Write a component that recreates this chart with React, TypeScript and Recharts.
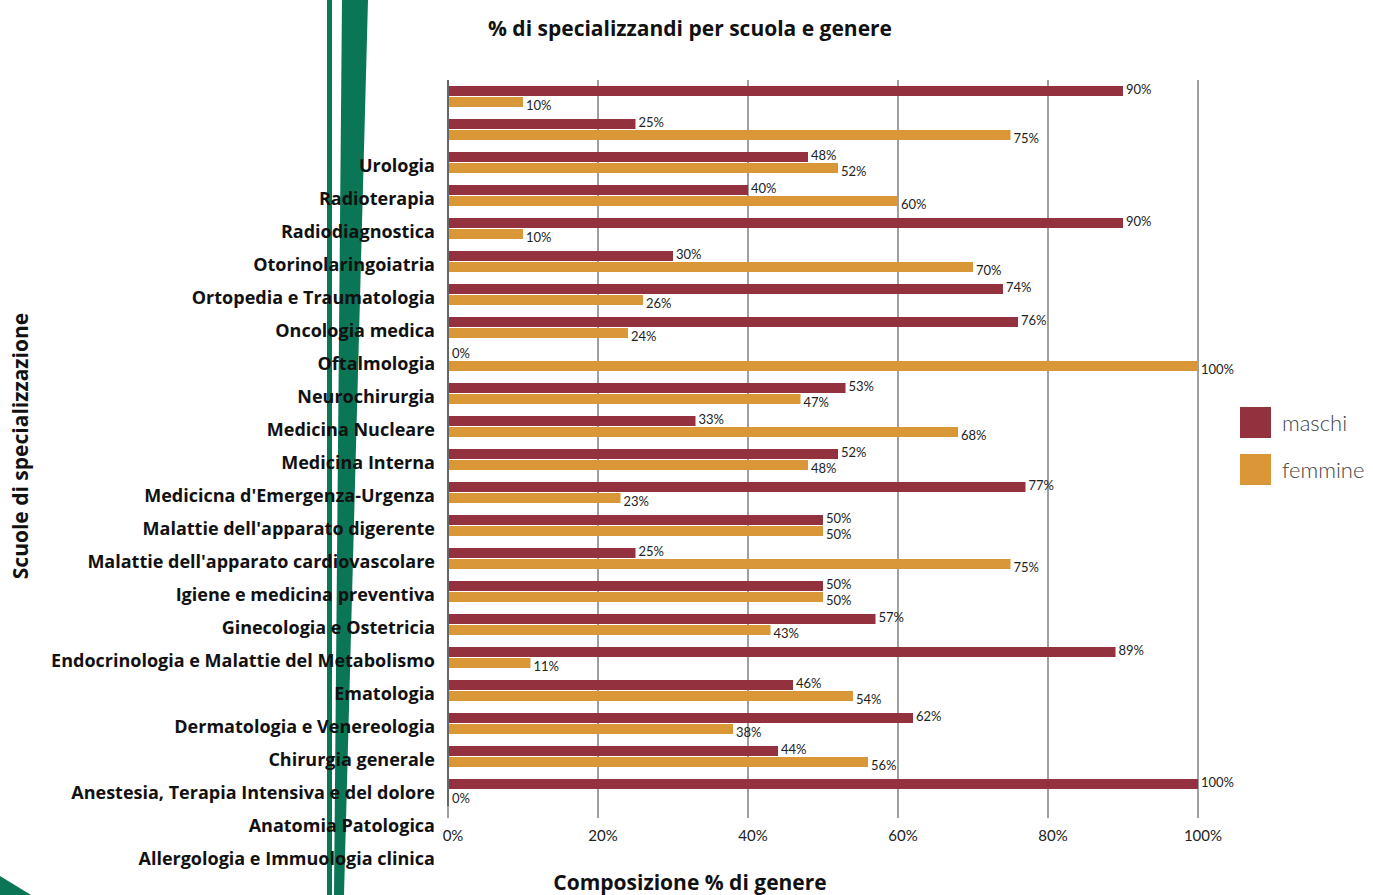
import React from 'react';
import { BarChart, Bar, XAxis, YAxis, CartesianGrid, Legend, LabelList } from 'recharts';

const scuole = [
  'Urologia',
  'Radioterapia',
  'Radiodiagnostica',
  'Otorinolaringoiatria',
  'Ortopedia e Traumatologia',
  'Oncologia medica',
  'Oftalmologia',
  'Neurochirurgia',
  'Medicina Nucleare',
  'Medicina Interna',
  "Medicicna d'Emergenza-Urgenza",
  "Malattie dell'apparato digerente",
  "Malattie dell'apparato cardiovascolare",
  'Igiene e medicina preventiva',
  'Ginecologia e Ostetricia',
  'Endocrinologia e Malattie del Metabolismo',
  'Ematologia',
  'Dermatologia e Venereologia',
  'Chirurgia generale',
  'Anestesia, Terapia Intensiva e del dolore',
  'Anatomia Patologica',
  'Allergologia e Immuologia clinica',
];

const maschi = [90, 25, 48, 40, 90, 30, 74, 76, 0, 53, 33, 52, 77, 50, 25, 50, 57, 89, 46, 62, 44, 100];
const femmine = [10, 75, 52, 60, 10, 70, 26, 24, 100, 47, 68, 48, 23, 50, 75, 50, 43, 11, 54, 38, 56, 0];

const xTicks = [0, 20, 40, 60, 80, 100];

const RED = '#93313E';
const ORANGE = '#DA9738';
const GREEN = '#0A7656';
const GRID = '#a0a0a0';
const BOLD = '"Open Sans", Lato, sans-serif';
const FONT = 'Lato, "Open Sans", sans-serif';

const data = scuole.map((name, i) => ({ name, maschi: maschi[i], femmine: femmine[i] }));

// the school names sit two rows below their bars, as in the reference
function SchoolTick({ y, payload }: any) {
  return (
    <text x={435} y={y + 68} textAnchor="end" dominantBaseline="central"
      fontFamily={BOLD} fontWeight={700} fontSize={18} fill="#111">
      {payload.value}
    </text>
  );
}

function PctTick({ x, payload }: any) {
  return (
    <text x={x + 5} y={835} textAnchor="middle" dominantBaseline="central"
      fontFamily={FONT} fontSize={15} fill="#222">
      {payload.value}%
    </text>
  );
}

const NoTick = () => <g />;

function renderLegend() {
  const items = [
    { label: 'maschi', color: RED },
    { label: 'femmine', color: ORANGE },
  ];
  return (
    <div style={{ display: 'flex', flexDirection: 'column', gap: 16 }}>
      {items.map((it) => (
        <div key={it.label} style={{ display: 'flex', alignItems: 'center', gap: 11 }}>
          <span style={{ width: 31, height: 31, background: it.color, display: 'inline-block' }} />
          <span style={{ fontFamily: FONT, fontWeight: 300, fontSize: 22, color: '#444' }}>{it.label}</span>
        </div>
      ))}
    </div>
  );
}

export default function App() {
  return (
    <div style={{ position: 'absolute', left: 0, top: 0, width: 1373, height: 895, background: '#fff', overflow: 'hidden' }}>
      {/* green stripes behind the chart */}
      <svg width={1373} height={895} style={{ position: 'absolute', left: 0, top: 0 }}>
        <polygon points="327,0 332,0 332,895 327,895" fill={GREEN} />
        <polygon points="342,0 368,0 344,895 334,895" fill={GREEN} />
        <polygon points="0,876 31,895 0,895" fill={GREEN} />
      </svg>

      <div style={{ position: 'absolute', left: 0, top: 0 }}>
        <BarChart
          width={1373}
          height={895}
          data={data}
          layout="vertical"
          margin={{ top: 79, right: 42, bottom: 59, left: 8 }}
          barSize={10}
          barGap={1}
        >
          <CartesianGrid horizontal={false} vertical stroke={GRID} strokeWidth={2} />
          <XAxis
            type="number"
            domain={[0, 100]}
            ticks={xTicks}
            height={30}
            axisLine={false}
            tickLine={{ stroke: GRID, strokeWidth: 2 }}
            tickSize={12}
            tick={<PctTick />}
          />
          <XAxis
            xAxisId="top"
            orientation="top"
            type="number"
            domain={[0, 100]}
            ticks={xTicks}
            height={1}
            axisLine={false}
            tickLine={{ stroke: GRID, strokeWidth: 2 }}
            tickSize={12}
            tick={<NoTick />}
          />
          <YAxis
            type="category"
            dataKey="name"
            width={440}
            axisLine={{ stroke: '#666', strokeWidth: 2 }}
            tickLine={false}
            tick={<SchoolTick />}
            interval={0}
          />
          <Legend
            layout="horizontal"
            verticalAlign="middle"
            align="right"
            content={renderLegend}
            wrapperStyle={{ position: 'absolute', left: 1240, top: 407, width: 133 }}
          />
          <Bar dataKey="maschi" fill={RED} minPointSize={1} isAnimationActive={false}>
            <LabelList dataKey="maschi" position="right" offset={3} dy={-2} formatter={(v: any) => `${v}%`}
              fill="#222" fontSize={13} fontFamily={FONT} />
          </Bar>
          <Bar dataKey="femmine" fill={ORANGE} minPointSize={1} isAnimationActive={false}>
            <LabelList dataKey="femmine" position="right" offset={3} dy={3} formatter={(v: any) => `${v}%`}
              fill="#222" fontSize={13} fontFamily={FONT} />
          </Bar>
        </BarChart>
      </div>

      <svg width={1373} height={895} style={{ position: 'absolute', left: 0, top: 0, pointerEvents: 'none' }}>
        <text x={690} y={28} textAnchor="middle" dominantBaseline="central"
          fontFamily={BOLD} fontWeight={700} fontSize={21} fill="#111">
          % di specializzandi per scuola e genere
        </text>
        <text x={690} y={882} textAnchor="middle" dominantBaseline="central"
          fontFamily={BOLD} fontWeight={700} fontSize={21} fill="#111">
          Composizione % di genere
        </text>
        <text x={20} y={446} textAnchor="middle" dominantBaseline="central"
          transform="rotate(-90 20 446)"
          fontFamily={BOLD} fontWeight={700} fontSize={21} fill="#111">
          Scuole di specializzazione
        </text>
      </svg>
    </div>
  );
}
